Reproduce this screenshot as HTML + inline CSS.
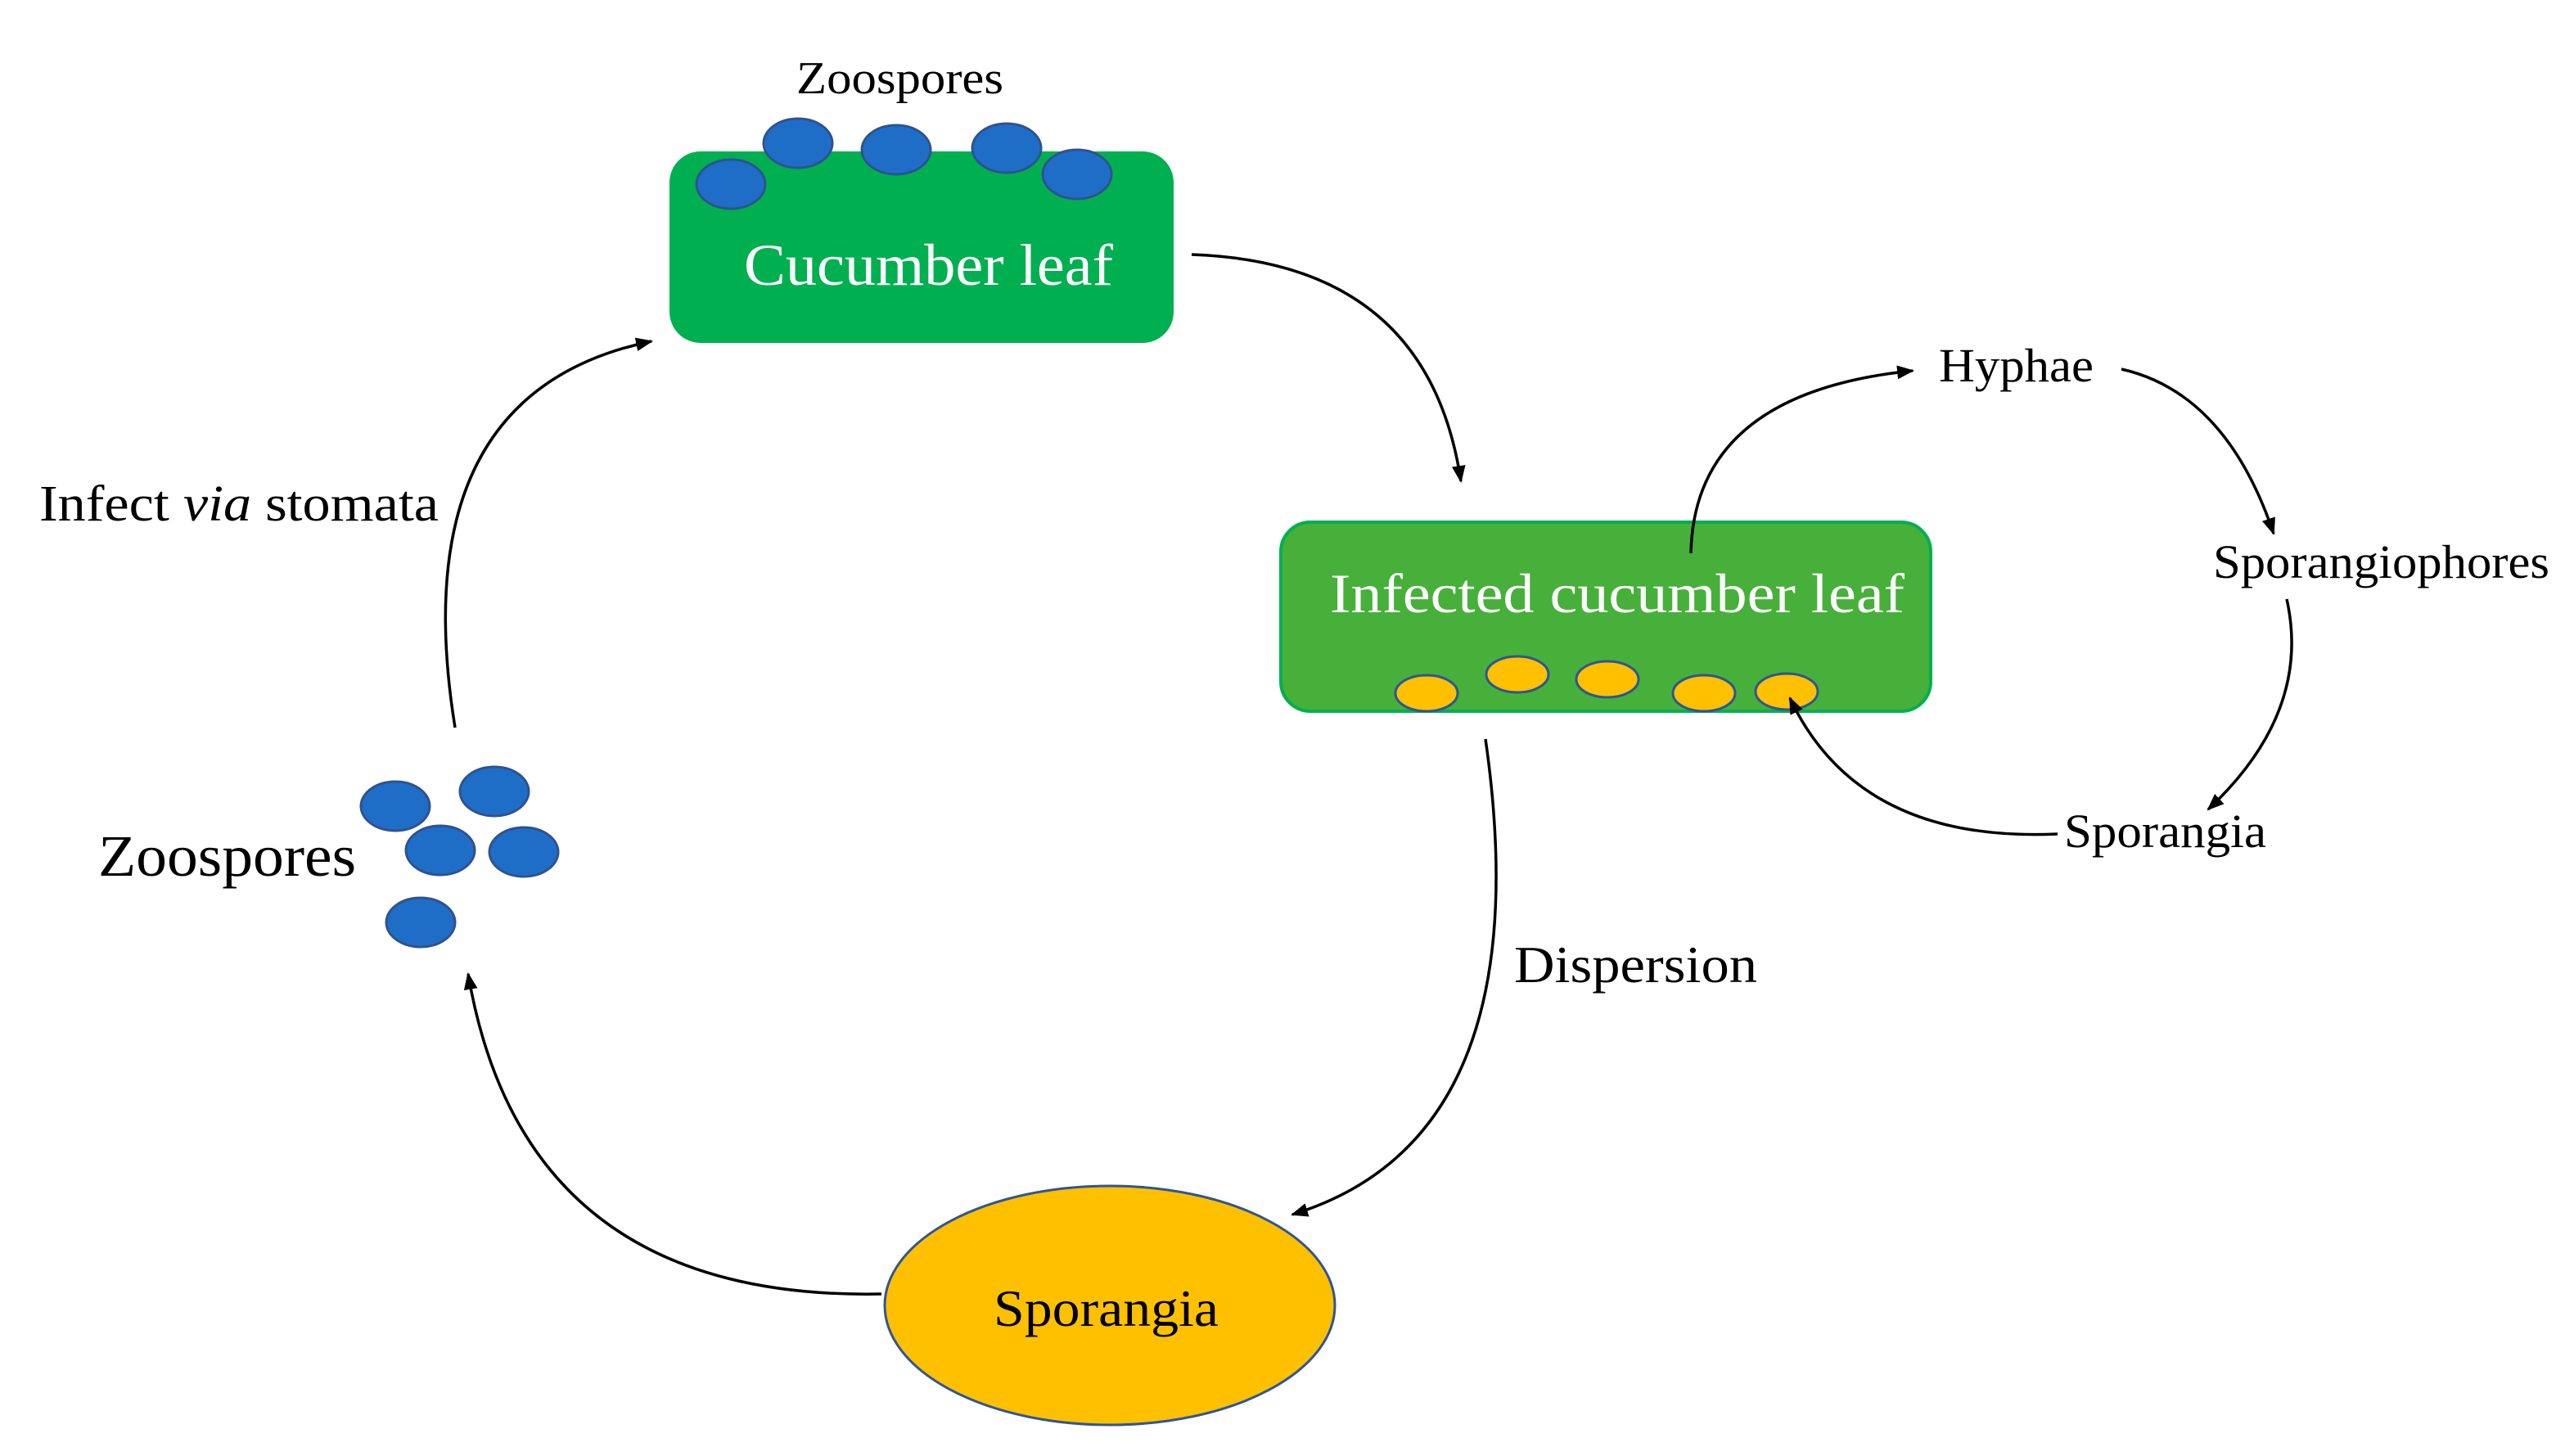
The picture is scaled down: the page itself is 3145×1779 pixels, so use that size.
<!DOCTYPE html>
<html><head><meta charset="utf-8"><style>
html,body{margin:0;padding:0;background:#fff;}
svg{display:block;}
text{font-family:"Liberation Serif",serif;}
</style></head><body>
<svg width="3145" height="1779" viewBox="0 0 3145 1779" xmlns="http://www.w3.org/2000/svg">
<defs>
<marker id="a" viewBox="0 0 10 10" refX="9" refY="5" markerWidth="6" markerHeight="6" orient="auto" markerUnits="strokeWidth">
<path d="M0,1 L10,5 L0,9 z" fill="#000"/>
</marker>
</defs>
<rect width="3145" height="1779" fill="#fff"/>

<!-- Cucumber leaf -->
<rect x="818" y="185" width="616" height="234" rx="38" fill="#00b050"/>
<g fill="#1e6ec8" stroke="#2f528f" stroke-width="3">
<ellipse cx="893" cy="225" rx="42" ry="30"/>
<ellipse cx="975" cy="175" rx="42" ry="30"/>
<ellipse cx="1095" cy="183" rx="42" ry="30"/>
<ellipse cx="1230" cy="181" rx="42" ry="30"/>
<ellipse cx="1316" cy="213" rx="42" ry="30"/>
</g>
<text x="909" y="348" font-size="72" fill="#fff" textLength="451" lengthAdjust="spacingAndGlyphs">Cucumber leaf</text>
<text x="973" y="114" font-size="56" textLength="253" lengthAdjust="spacingAndGlyphs">Zoospores</text>

<!-- Infected leaf -->
<rect x="1565" y="638" width="794" height="231" rx="36" fill="#47b03a" stroke="#00b050" stroke-width="4"/>
<text x="1625" y="748" font-size="68" fill="#fff" textLength="702" lengthAdjust="spacingAndGlyphs">Infected cucumber leaf</text>
<g fill="#ffc000" stroke="#2f5597" stroke-width="3">
<ellipse cx="1743" cy="847" rx="38" ry="22"/>
<ellipse cx="1854" cy="824" rx="38" ry="22"/>
<ellipse cx="1964" cy="830" rx="38" ry="22"/>
<ellipse cx="2082" cy="847" rx="38" ry="22"/>
<ellipse cx="2183" cy="845" rx="38" ry="22"/>
</g>

<!-- Sporangia -->
<ellipse cx="1356" cy="1595" rx="275" ry="146" fill="#ffc000" stroke="#2f5597" stroke-width="3"/>
<text x="1214" y="1620" font-size="64" textLength="275" lengthAdjust="spacingAndGlyphs">Sporangia</text>

<!-- Left zoospores -->
<g fill="#1e6ec8" stroke="#2f528f" stroke-width="3">
<ellipse cx="483" cy="985" rx="42" ry="30"/>
<ellipse cx="604" cy="967" rx="42" ry="30"/>
<ellipse cx="538" cy="1039" rx="42" ry="30"/>
<ellipse cx="640" cy="1041" rx="42" ry="30"/>
<ellipse cx="514" cy="1127" rx="42" ry="30"/>
</g>
<text x="120" y="1070" font-size="72" textLength="315" lengthAdjust="spacingAndGlyphs">Zoospores</text>
<text x="48" y="636" font-size="62" textLength="488" lengthAdjust="spacingAndGlyphs">Infect <tspan font-style="italic">via</tspan> stomata</text>
<text x="1850" y="1200" font-size="64" textLength="297" lengthAdjust="spacingAndGlyphs">Dispersion</text>
<text x="2369" y="466" font-size="58" textLength="189" lengthAdjust="spacingAndGlyphs">Hyphae</text>
<text x="2704" y="706" font-size="58" textLength="411" lengthAdjust="spacingAndGlyphs">Sporangiophores</text>
<text x="2522" y="1035" font-size="58" textLength="247" lengthAdjust="spacingAndGlyphs">Sporangia</text>

<!-- arrows -->
<g fill="none" stroke="#000" stroke-width="3.5" marker-end="url(#a)">
<path d="M1456,311 Q1745,321 1785,588"/>
<path d="M2066,676 Q2070,480 2337,453"/>
<path d="M2592,451 Q2720,480 2778,652"/>
<path d="M2794,732 Q2825,870 2698,989"/>
<path d="M2514,1019 Q2270,1030 2187,853"/>
<path d="M1815,903 Q1885,1390 1579,1484"/>
<path d="M1077,1581 Q640,1590 572,1190"/>
<path d="M556,889 Q490,480 796,417"/>
</g>
</svg>
</body></html>
